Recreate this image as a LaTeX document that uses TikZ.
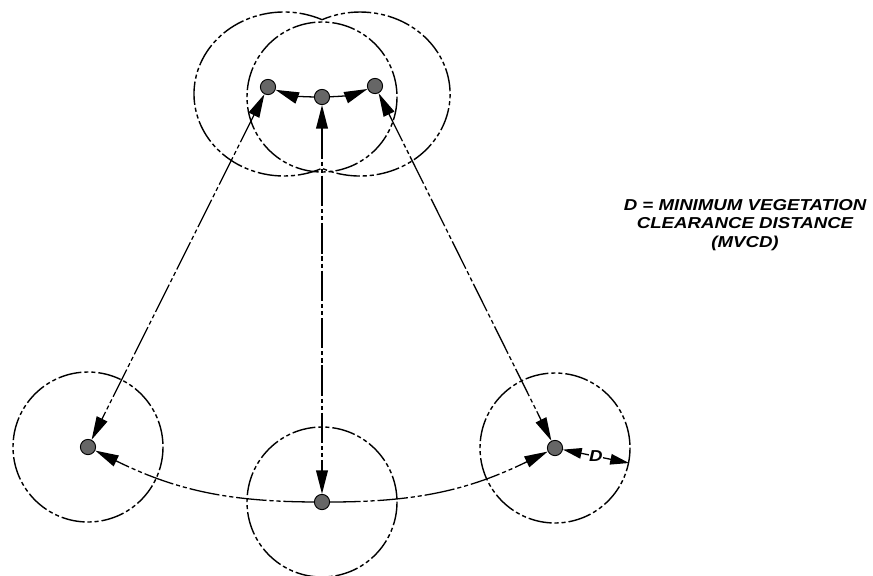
\documentclass[tikz,border=0pt]{standalone}
\usepackage{fontspec}
\newfontfamily\notefont[FakeStretch=1.18]{Liberation Sans}
\usetikzlibrary{arrows.meta}
\begin{document}
\begin{tikzpicture}[
      x=0.03cm, y=-0.03cm,
      every node/.style={align=center},
      >={Triangle[length=20pt,width=10pt]},
      dot/.style={circle, draw, thick, fill=black!60, minimum size=13pt, inner sep=0pt},
      zone/.style={line width=1.2pt, dash pattern=on 20pt off 2.5pt on 3.5pt off 2.5pt on 3.5pt off 2.5pt},
      reach/.style={line width=1.1pt, dash pattern=on 26pt off 2.5pt on 3.5pt off 2.5pt on 3.5pt off 2.5pt},
      note/.style={font=\notefont\bfseries\itshape\fontsize{13.5}{15.5}\selectfont}
    ]
\useasboundingbox (0,0) rectangle (873,575);

% Nodes
      \node[dot] (tl) at (268,87) {};
      \node[dot] (tm) at (322,97) {};
      \node[dot] (tr) at (375,86) {};
      \node[dot] (bl) at (88,447) {};
      \node[dot] (bm) at (322,502) {};
      \node[dot] (br) at (555,448) {};
      \coordinate (dend) at (629,463);
      \node[note] (mvcd) at (745,225) {D = MINIMUM VEGETATION\\CLEARANCE DISTANCE\\(MVCD)};

% Clearance zones
      \draw[zone] (284,94) ++(-65:90 and 82)
        arc[start angle=-65, end angle=-295, x radius=90, y radius=82]
        arc[start angle=115, end angle=-115, x radius=90, y radius=82];
      \draw[zone] (tm) circle[radius=75];
      \draw[zone] (bl) circle[radius=75];
      \draw[zone] (bm) circle[radius=75];
      \draw[zone] (br) circle[radius=75];

% Connections
      \draw[reach,->] (tm) to[bend left=10] (tl);
      \draw[reach,->] (tm) to[bend right=10] (tr);
      \draw[reach,<->] (tm) -- (bm);
      \draw[reach,<->] (tl) -- (bl);
      \draw[reach,<->] (tr) -- (br);
      \draw[reach,->] (bm) to[bend left=13] (bl);
      \draw[reach,->] (bm) to[bend right=13] (br);
      \draw[reach,<->,>={Triangle[length=16pt,width=9pt]}] (br) --
        node[note, fill=white, inner sep=0.5pt] (dlab) {D} (dend);

    \end{tikzpicture}
\end{document}
